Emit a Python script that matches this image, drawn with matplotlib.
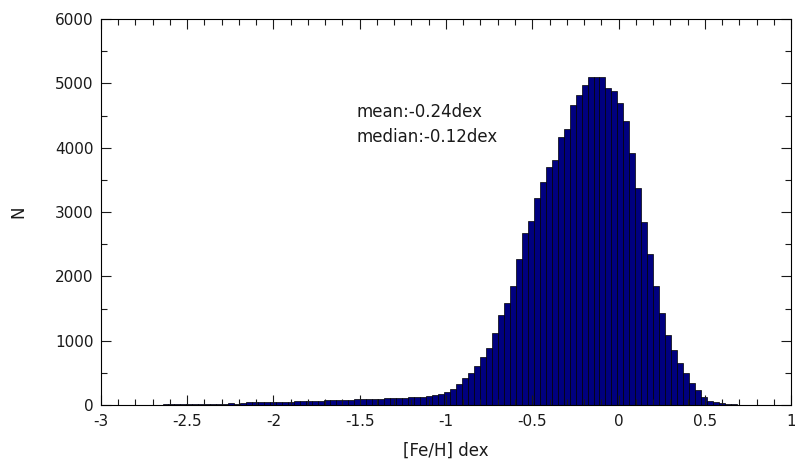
import numpy as np
import matplotlib
matplotlib.use("Agg")
from matplotlib import pyplot as plt
from matplotlib.ticker import MultipleLocator

# histogram of [Fe/H], 100 bins between the data min and max
feh_min = -2.678
feh_max = 0.792
counts = [
    8, 10, 12, 10, 14, 12, 16, 15, 18, 20,
    18, 22, 24, 22, 26, 42, 45, 40, 48, 46,
    50, 52, 48, 55, 58, 56, 60, 62, 72, 78,
    80, 76, 84, 88, 86, 92, 96, 100, 104, 102,
    110, 114, 118, 124, 132, 142, 155, 172, 200, 255,
    330, 414, 502, 611, 751, 891, 1124, 1399, 1580, 1849,
    2269, 2668, 2864, 3212, 3465, 3703, 3807, 4165, 4289, 4662,
    4817, 4968, 5100, 5105, 5095, 4926, 4884, 4688, 4413, 3911,
    3367, 2848, 2347, 1849, 1425, 1088, 855, 653, 502, 342,
    233, 129, 70, 45, 30, 20, 12, 8, 5, 3,
]
stats_text = ["mean:-0.24dex", "median:-0.12dex"]

edges = np.linspace(feh_min, feh_max, len(counts) + 1)

plt.rcParams["font.family"] = ["DejaVu Sans"]
txt = "#1a1a1a"
fig = plt.figure(figsize=(7.95, 4.65), dpi=100)
ax = fig.add_axes([0.127, 0.129, 0.868, 0.830])

ax.bar(edges[:-1], counts, width=np.diff(edges), align="edge",
       color="#00007f", edgecolor="black", linewidth=0.5)

ax.set_xlim(-3, 1)
ax.set_ylim(0, 6000)
ax.xaxis.set_major_locator(MultipleLocator(0.5))
ax.xaxis.set_minor_locator(MultipleLocator(0.1))
ax.yaxis.set_major_locator(MultipleLocator(1000))
ax.yaxis.set_minor_locator(MultipleLocator(500))
ax.set_xticklabels([f"{v:g}" for v in ax.get_xticks()])
ax.tick_params(which="both", direction="in", top=True, right=True,
               labelsize=11, colors=txt)
ax.tick_params(which="major", length=7, width=0.8)
ax.tick_params(which="minor", length=4, width=0.8)
ax.tick_params(axis="x", pad=6.5)
ax.tick_params(axis="y", pad=5.5)
for s in ax.spines.values():
    s.set_linewidth(0.8)

ax.text(-1.52, 4553, stats_text[0], fontsize=12, va="center", color=txt)
ax.text(-1.52, 4165, stats_text[1], fontsize=12, va="center", color=txt)

ax.set_xlabel("[Fe/H] dex", fontsize=12, color=txt, labelpad=9)
ax.set_ylabel("N", fontsize=12, color=txt, labelpad=20)

fig.savefig("out.png", dpi=100)
